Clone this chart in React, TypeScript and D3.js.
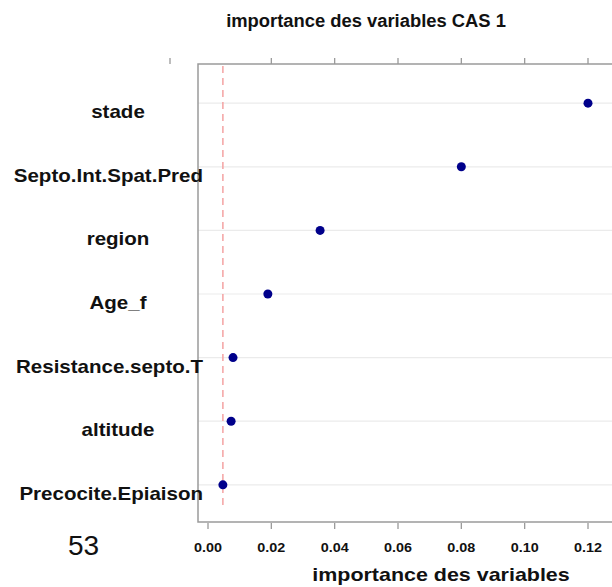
import React from "react";
import * as d3 from "d3";

const categories = [
  "stade",
  "Septo.Int.Spat.Pred",
  "region",
  "Age_f",
  "Resistance.septo.T",
  "altitude",
  "Precocite.Epiaison",
];
const importance = [0.12, 0.08, 0.0354, 0.0189, 0.0079, 0.0073, 0.0047];
const thresholdValue = 0.0047;
const bottomTicks = [0, 0.02, 0.04, 0.06, 0.08, 0.1, 0.12];
const topTicks = [-0.012, 0.02, 0.04, 0.06, 0.08, 0.1, 0.12];
const title = "importance des variables CAS 1";
const xTitle = "importance des variables";
const pageNumber = "53";

const W = 612;
const H = 587;
const box = { left: 198, top: 64, bottom: 522, right: 630 };

const FONT = "'Liberation Sans', Arial, sans-serif";
const labelSize = 18;
const stretch = 1.14;

function measure(text: string, size: number): number {
  if (typeof document === "undefined") return text.length * size * 0.55;
  const c = document.createElement("canvas");
  const ctx = c.getContext("2d");
  if (!ctx) return text.length * size * 0.55;
  ctx.font = `bold ${size}px ${FONT}`;
  return ctx.measureText(text).width;
}

function StretchText(props: {
  x: number;
  y: number;
  size: number;
  sx: number;
  children: string;
  bold?: boolean;
}) {
  const { x, y, size, sx, children, bold = true } = props;
  return (
    <text
      transform={`translate(${x},${y}) scale(${sx},1)`}
      textAnchor="middle"
      fontWeight={bold ? "bold" : "normal"}
      fontSize={size}
      fill="#111"
    >
      {children}
    </text>
  );
}

export default function App() {
  const x = d3.scaleLinear().domain([0, 0.12]).range([208, 588]);
  const y = d3
    .scalePoint<string>()
    .domain(categories)
    .range([box.top + 1, box.bottom + 1])
    .padding(0.6);

  const fmt = d3.format(".2f");

  return (
    <svg
      width={W}
      height={H}
      style={{ position: "absolute", left: 0, top: 0, background: "#fff" }}
      fontFamily={FONT}
    >
      <rect width={W} height={H} fill="#fff" />
      {/* title */}
      <StretchText x={366} y={26.5} size={17.5} sx={1.05}>
        {title}
      </StretchText>

      {/* gridlines */}
      {categories.map((c) => (
        <line
          key={"g" + c}
          x1={box.left}
          x2={W}
          y1={y(c)}
          y2={y(c)}
          stroke="#ebebeb"
          strokeWidth={1.2}
        />
      ))}

      {/* box */}
      <rect
        x={box.left}
        y={box.top}
        width={box.right - box.left}
        height={box.bottom - box.top}
        fill="none"
        stroke="#9a9a9a"
        strokeWidth={1.5}
      />

      {/* top ticks */}
      {topTicks.map((t, i) => (
        <line
          key={"tt" + i}
          x1={x(t)}
          x2={x(t)}
          y1={box.top - 6}
          y2={box.top}
          stroke="#9a9a9a"
          strokeWidth={1.3}
        />
      ))}

      {/* bottom ticks */}
      {bottomTicks.map((t, i) => (
        <g key={"bt" + i}>
          <line
            x1={x(t)}
            x2={x(t)}
            y1={box.bottom + 1}
            y2={box.bottom + 7}
            stroke="#9a9a9a"
            strokeWidth={1.3}
          />
          <StretchText x={x(t)} y={552} size={12.5} sx={1.15}>
            {fmt(t)}
          </StretchText>
        </g>
      ))}

      {/* threshold dashed line */}
      <line
        x1={x(thresholdValue)}
        x2={x(thresholdValue)}
        y1={box.top + 2}
        y2={508}
        stroke="#f4a3a3"
        strokeWidth={1.5}
        strokeDasharray="7,5"
      />

      {/* points */}
      {categories.map((c, i) => (
        <circle
          key={"p" + c}
          cx={x(importance[i])}
          cy={y(c)}
          r={4.5}
          fill="#00008b"
        />
      ))}

      {/* row labels */}
      {categories.map((c) => {
        const w = measure(c, labelSize) * stretch;
        const cx = Math.min(118, 203 - w / 2);
        return (
          <StretchText
            key={"l" + c}
            x={cx}
            y={(y(c) as number) + 15}
            size={labelSize}
            sx={stretch}
          >
            {c}
          </StretchText>
        );
      })}

      {/* x title */}
      <StretchText x={441} y={581} size={18.5} sx={1.16}>
        {xTitle}
      </StretchText>

      {/* page number */}
      <text x={68} y={555} fontSize={28} fill="#111">
        {pageNumber}
      </text>
    </svg>
  );
}
